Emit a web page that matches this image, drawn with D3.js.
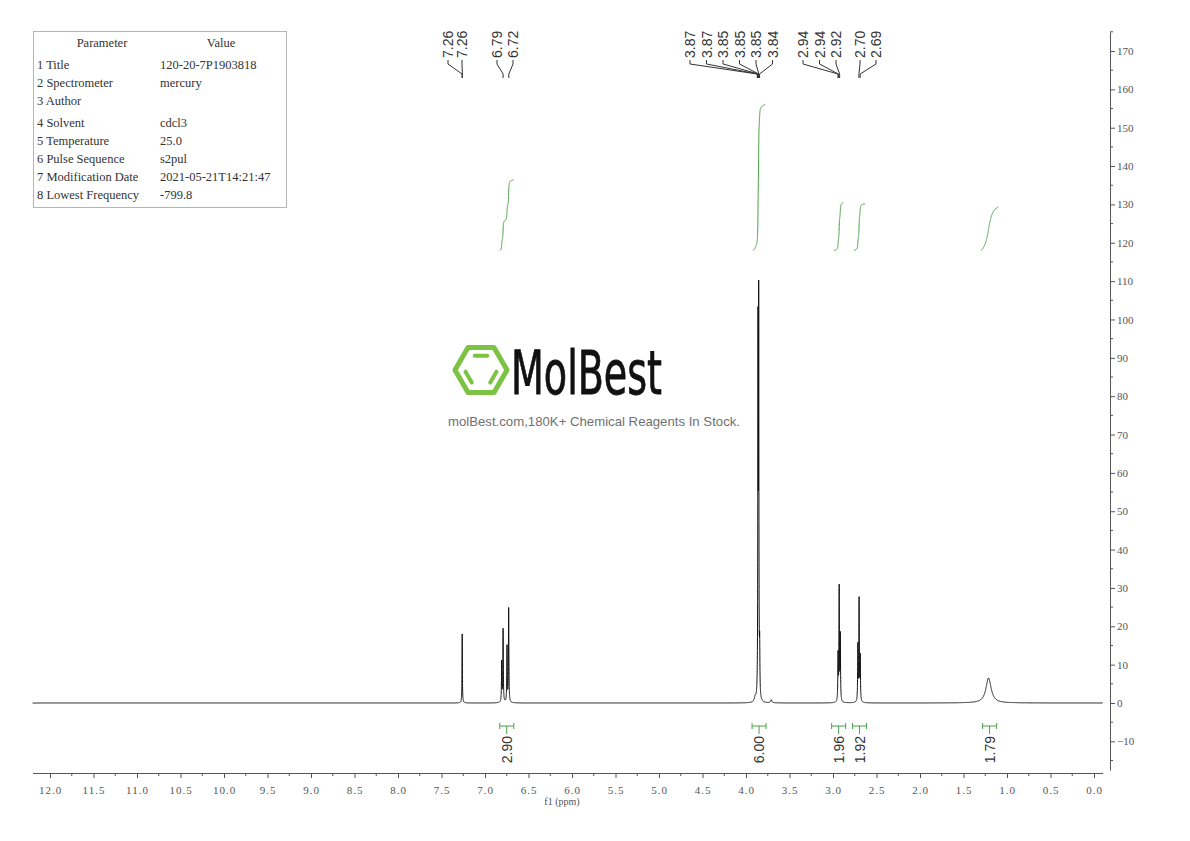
<!DOCTYPE html>
<html><head><meta charset="utf-8">
<script src="https://cdn.jsdelivr.net/npm/d3@7"></script>
<style>body{margin:0;background:#fff} svg{display:block}</style>
</head><body>
<svg id="c" width="1190" height="841"></svg>
<script>
// ---------- data ----------
const paramNames = ["1 Title","2 Spectrometer","3 Author","4 Solvent","5 Temperature","6 Pulse Sequence","7 Modification Date","8 Lowest Frequency"];
const paramValues = ["120-20-7P1903818","mercury","","cdcl3","25.0","s2pul","2021-05-21T14:21:47","-799.8"];

// peak table: centre (ppm), amplitude (intensity units), half width (ppm)
const peakPpm    = [7.262, 6.808, 6.792, 6.747, 6.728, 3.895, 3.862, 3.854, 3.843, 3.710, 2.942, 2.929, 2.916, 2.714, 2.700, 2.687, 1.212];
const peakHeight = [18.0,  10.5,  19.0,  14.5,  24.5,  1.2,   94,    101,   12,    0.8,   12.0,  29.5,  17.0,  14.5,  26.5,  11.5,  6.5];
const peakWidth  = [0.0025,0.003, 0.003, 0.003, 0.003, 0.010, 0.0025,0.0025,0.003, 0.008, 0.003, 0.003, 0.003, 0.003, 0.003, 0.003, 0.036];

// peak-pick labels
const labelText = ["7.26","7.26","6.79","6.72","3.87","3.87","3.85","3.85","3.85","3.84","2.94","2.94","2.92","2.70","2.69"];
const labelPpm  = [7.264, 7.260, 6.792, 6.726, 3.870, 3.868, 3.856, 3.854, 3.852, 3.844, 2.942, 2.938, 2.924, 2.702, 2.688];
const labelX    = [448, 462, 497, 513, 690, 706.5, 723, 739.5, 756, 772.5, 803, 819.5, 836, 860, 876];

// integrals
const integralStart = [6.83, 3.92, 2.99, 2.76, 1.30];
const integralEnd   = [6.67, 3.78, 2.88, 2.63, 1.10];
const integralValue = ["2.90","6.00","1.96","1.92","1.79"];

// axis ticks
const xTickValues = [12.0,11.5,11.0,10.5,10.0,9.5,9.0,8.5,8.0,7.5,7.0,6.5,6.0,5.5,5.0,4.5,4.0,3.5,3.0,2.5,2.0,1.5,1.0,0.5,0.0];
const yTickValues = [-10,0,10,20,30,40,50,60,70,80,90,100,110,120,130,140,150,160,170];

// ---------- drawing ----------
const svg = d3.select("#c");
const x = d3.scaleLinear().domain([12, 0]).range([50, 1094]);
const y = d3.scaleLinear().domain([0, 170]).range([703, 51]);
const GREEN = "#4aa047";
const SERIF = "'Liberation Serif','DejaVu Serif',serif";
const SANS = "'Liberation Sans',Arial,sans-serif";

function intensity(p){
  let s = 0;
  for (let i=0;i<peakPpm.length;i++){
    const d = (p-peakPpm[i])/peakWidth[i];
    s += peakHeight[i]/(1+d*d);
  }
  return s;
}

// watermark
const wm = svg.append("g");
const hc = [481, 370], hr = 26;
const hv = d3.range(6).map(i => [hc[0]+hr*Math.cos(i*Math.PI/3), hc[1]-hr*Math.sin(i*Math.PI/3)]);
wm.append("polygon").attr("points", hv.map(p=>p.join(",")).join(" "))
  .attr("fill","none").attr("stroke","#7cc243").attr("stroke-width",5).attr("stroke-linejoin","round");
const ir = 16.5;
const iv = d3.range(6).map(i => [hc[0]+ir*Math.cos(i*Math.PI/3), hc[1]-ir*Math.sin(i*Math.PI/3)]);
[[1,2],[3,4],[5,0]].forEach(([a,b])=>{
  const A=iv[a],B=iv[b];
  const f=0.12;
  wm.append("line")
    .attr("x1",A[0]+(B[0]-A[0])*f).attr("y1",A[1]+(B[1]-A[1])*f)
    .attr("x2",A[0]+(B[0]-A[0])*(1-f)).attr("y2",A[1]+(B[1]-A[1])*(1-f))
    .attr("stroke","#7cc243").attr("stroke-width",4).attr("stroke-linecap","round");
});
wm.append("text").attr("x",511).attr("y",394).text("MolBest")
  .attr("font-family","'DejaVu Sans Condensed','DejaVu Sans',sans-serif").attr("font-size",60)
  .attr("textLength",151).attr("lengthAdjust","spacingAndGlyphs").attr("fill","#111")
  .attr("stroke","#111").attr("stroke-width",0.8);
wm.append("text").attr("x",448).attr("y",426).text("molBest.com,180K+ Chemical Reagents In Stock.")
  .attr("font-family",SANS).attr("font-size",13).attr("fill","#707070")
  .attr("textLength",292).attr("lengthAdjust","spacingAndGlyphs");

// parameter table
const tb = svg.append("g");
tb.append("rect").attr("x",33.5).attr("y",31.5).attr("width",253).attr("height",176)
  .attr("fill","#fff").attr("stroke","#b5b5b5");
tb.append("text").attr("x",102).attr("y",47).attr("text-anchor","middle").text("Parameter");
tb.append("text").attr("x",221).attr("y",47).attr("text-anchor","middle").text("Value");
const rowY = [69,87,105,127,145,163,181,199];
paramNames.forEach((n,i)=>{
  tb.append("text").attr("x",37).attr("y",rowY[i]).text(n);
  tb.append("text").attr("x",160).attr("y",rowY[i]).text(paramValues[i]);
});
tb.selectAll("text").attr("font-family",SERIF).attr("font-size",12.5).attr("fill","#333");

// axes
const xAxisScale = x.copy().domain([12.2,-0.1]).range([x(12.2), x(-0.1)]);
const xMinor = d3.range(0,49).map(i=>12.0-0.25*i).filter(v=>Math.abs((v*2)-Math.round(v*2))>0.01);
const gx = svg.append("g").attr("transform","translate(0,773)");
gx.call(d3.axisBottom(xAxisScale).tickValues(xTickValues).tickSize(5).tickSizeOuter(0).tickPadding(8).tickFormat(d3.format(".1f")));
gx.append("g").selectAll("line").data(xMinor).join("line")
  .attr("x1",d=>x(d)).attr("x2",d=>x(d)).attr("y1",0).attr("y2",3).attr("stroke","#555");
gx.selectAll("text").attr("font-family",SERIF).attr("font-size",11).attr("fill","#555").attr("letter-spacing","1");
gx.selectAll("path,line").attr("stroke","#555");
svg.append("text").attr("x",562).attr("y",805).attr("text-anchor","middle").text("f1 (ppm)")
  .attr("font-family",SERIF).attr("font-size",10).attr("fill","#555");

const yAxisScale = y.copy().domain([-17.5,175]).range([y(-17.5), y(175)]);
const yMinor = d3.range(-15,176,10);
const gy = svg.append("g").attr("transform","translate(1110,0)");
gy.call(d3.axisRight(yAxisScale).tickValues(yTickValues).tickSize(5).tickSizeOuter(0).tickPadding(2));
gy.append("g").selectAll("line").data(yMinor).join("line")
  .attr("y1",d=>y(d)).attr("y2",d=>y(d)).attr("x1",0).attr("x2",3).attr("stroke","#555");
gy.selectAll("text").attr("font-family",SERIF).attr("font-size",11).attr("fill","#555");
gy.selectAll("path,line").attr("stroke","#555");

// spectrum
const grid = d3.range(12.2, -0.1, -0.0005);
const spec = grid.map(p=>[p, intensity(p)]);
svg.append("path").datum(spec)
  .attr("d", d3.line().x(d=>x(d[0])).y(d=>y(d[1])))
  .attr("fill","none").attr("stroke","#111").attr("stroke-width",1);

// integrals
integralStart.forEach((s,i)=>{
  const e = integralEnd[i];
  const g = d3.range(s, e, -0.0005);
  let cum = 0; const pts = [];
  g.forEach(p=>{ cum += intensity(p); pts.push([p,cum]); });
  const tot = cum;
  const rise = (+integralValue[i]) * (38/6);
  svg.append("path").datum(pts)
    .attr("d", d3.line().x(d=>x(d[0])).y(d=>y(118 + rise*d[1]/tot)))
    .attr("fill","none").attr("stroke",GREEN).attr("stroke-width",1);
  const x1 = x(s), x2 = x(e), xm = (x1+x2)/2;
  const b = svg.append("g").attr("stroke",GREEN).attr("stroke-width",1);
  const bx1 = xm-7, bx2 = xm+7;
  b.append("line").attr("x1",bx1).attr("x2",bx2).attr("y1",726).attr("y2",726);
  b.append("line").attr("x1",bx1).attr("x2",bx1).attr("y1",723).attr("y2",729);
  b.append("line").attr("x1",bx2).attr("x2",bx2).attr("y1",723).attr("y2",729);
  b.append("line").attr("x1",xm).attr("x2",xm).attr("y1",726).attr("y2",734);
  svg.append("text").attr("transform",`translate(${xm},736) rotate(-90)`)
    .attr("text-anchor","end").attr("dominant-baseline","central")
    .attr("font-family",SANS).attr("font-size",14).attr("fill","#333").text(integralValue[i]);
});

// peak labels
labelText.forEach((t,i)=>{
  const lx = labelX[i], px = x(labelPpm[i]);
  svg.append("text").attr("transform",`translate(${lx},58) rotate(-90)`)
    .attr("text-anchor","start").attr("dominant-baseline","central")
    .attr("font-family",SANS).attr("font-size",14).attr("fill","#333").text(t);
  svg.append("path").datum([[lx,60],[lx,64],[px,74],[px,78]])
    .attr("d", d3.line()).attr("fill","none").attr("stroke","#333").attr("stroke-width",1);
});
</script>
</body></html>
